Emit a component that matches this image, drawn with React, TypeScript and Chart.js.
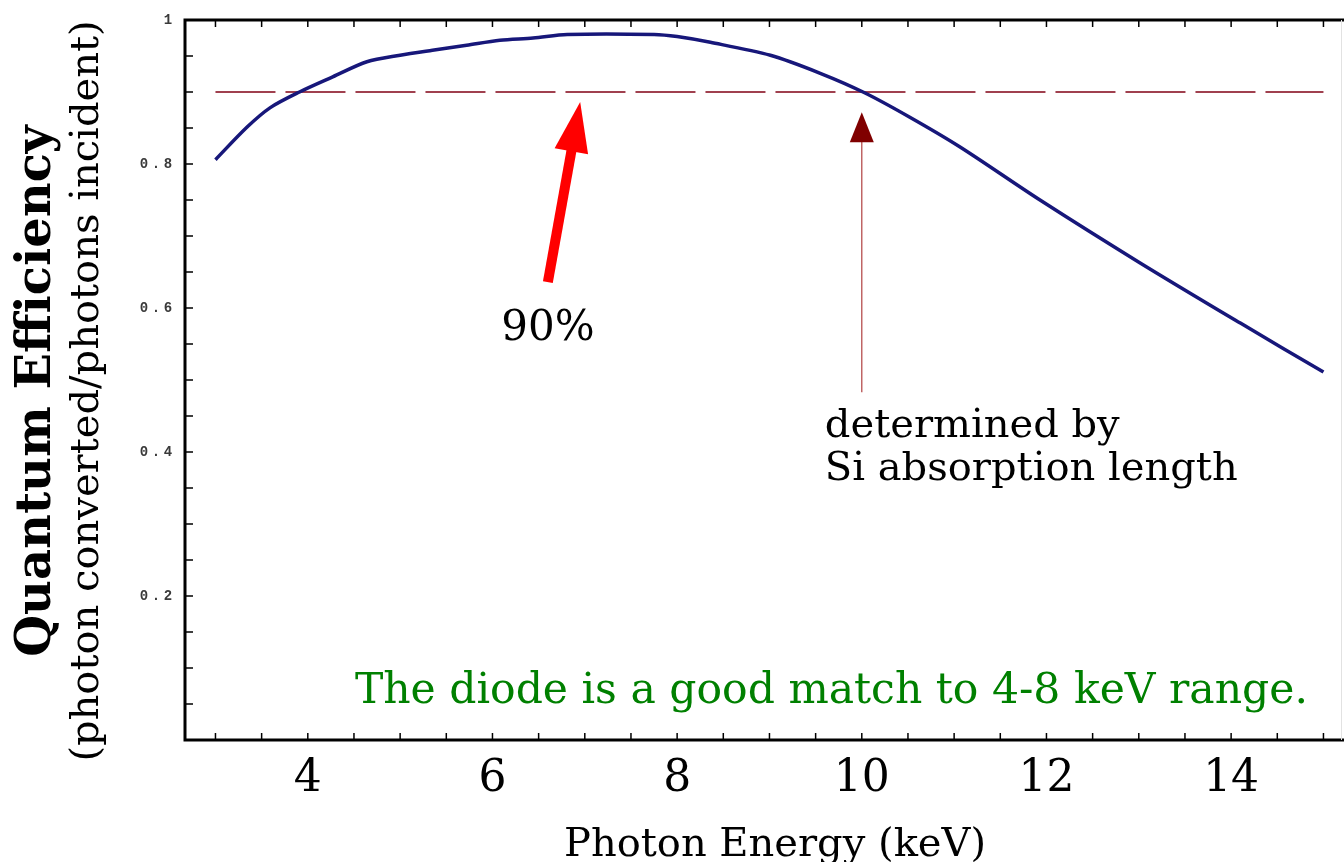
import React, { useEffect, useRef } from "react";
import { Chart, registerables } from "chart.js";

Chart.register(...registerables);

// Photon energy (keV) and quantum efficiency
const energyKeV = [3.0, 3.34, 3.59, 3.91, 4.27, 4.64, 5.0, 5.35, 5.72, 6.08, 6.44, 6.81, 7.75, 8.0, 8.36, 9.01, 9.55, 10.03, 10.52, 11.06, 11.93, 13.01, 14.1, 15.0];
const quantumEff = [0.806, 0.851, 0.878, 0.9, 0.921, 0.942, 0.951, 0.958, 0.965, 0.972, 0.975, 0.98, 0.98, 0.977, 0.969, 0.951, 0.926, 0.899, 0.865, 0.824, 0.75, 0.663, 0.579, 0.511];

// 90% reference level
const refX = [3.0, 15.0];
const refY = [0.9, 0.9];

// tick labels
const xTickValues = [4, 6, 8, 10, 12, 14];
const yTickValues = [0.2, 0.4, 0.6, 0.8, 1.0];
const yTickLabels = ["0.2", "0.4", "0.6", "0.8", "1"];

// axis extents
const X_MIN = 2.67;
const X_MAX = 15.19;
const Y_MIN = 0;
const Y_MAX = 1;

const SERIF = "'DejaVu Serif', serif";

const decorPlugin = {
  id: "decor",
  afterDraw(chart: any) {
    const { ctx, chartArea } = chart;
    const xs = chart.scales.x;
    const ys = chart.scales.y;
    const L = chartArea.left, R = chartArea.right, T = chartArea.top, B = chartArea.bottom;
    ctx.save();

    // frame
    ctx.strokeStyle = "#000";
    ctx.lineWidth = 3;
    ctx.beginPath();
    ctx.moveTo(L, T);
    ctx.lineTo(R + 3, T);
    ctx.moveTo(L, T - 1.5);
    ctx.lineTo(L, B + 1.5);
    ctx.moveTo(L, B);
    ctx.lineTo(R + 3, B);
    ctx.stroke();
    ctx.strokeStyle = "#e2e2e2";
    ctx.lineWidth = 1;
    ctx.beginPath();
    ctx.moveTo(R + 0.5, T);
    ctx.lineTo(R + 0.5, B);
    ctx.stroke();

    // minor/major ticks
    ctx.strokeStyle = "#000";
    ctx.lineWidth = 1.5;
    ctx.beginPath();
    for (let v = 3; v <= 15.01; v += 0.5) {
      const px = xs.getPixelForValue(v);
      ctx.moveTo(px, B);
      ctx.lineTo(px, B - 7);
      ctx.moveTo(px, T);
      ctx.lineTo(px, T + 7);
    }
    for (let v = 0.05; v <= 1.001; v += 0.05) {
      const py = ys.getPixelForValue(v);
      ctx.moveTo(L, py);
      ctx.lineTo(L + 8, py);
    }
    ctx.stroke();

    // y tick labels (letter-spaced monospace, as in the original plot)
    ctx.save();
    ctx.fillStyle = "#3a3a3a";
    ctx.font = "bold 14px 'Liberation Mono', monospace";
    ctx.textAlign = "center";
    ctx.textBaseline = "middle";
    const adv = 12;
    yTickValues.forEach((v, i) => {
      const s = yTickLabels[i];
      const py = ys.getPixelForValue(v);
      const rightCenter = L - 17;
      for (let k = 0; k < s.length; k++) {
        const cx = rightCenter - (s.length - 1 - k) * adv;
        ctx.fillText(s[k], cx, py);
      }
    });
    ctx.restore();

    const drawArrow = (x0: number, y0: number, x1: number, y1: number, shaftW: number, headL: number, headW: number, shaftColor: string, headColor: string) => {
      const dx = x1 - x0, dy = y1 - y0;
      const len = Math.hypot(dx, dy);
      const ux = dx / len, uy = dy / len;
      const bx = x1 - ux * headL, by = y1 - uy * headL;
      ctx.strokeStyle = shaftColor;
      ctx.lineWidth = shaftW;
      ctx.lineCap = "butt";
      ctx.beginPath();
      ctx.moveTo(x0, y0);
      ctx.lineTo(bx + ux * 2, by + uy * 2);
      ctx.stroke();
      ctx.fillStyle = headColor;
      ctx.beginPath();
      ctx.moveTo(x1, y1);
      ctx.lineTo(bx - uy * headW / 2, by + ux * headW / 2);
      ctx.lineTo(bx + uy * headW / 2, by - ux * headW / 2);
      ctx.closePath();
      ctx.fill();
    };
    // red arrow -> 90% level
    drawArrow(xs.getPixelForValue(6.6), ys.getPixelForValue(0.636), xs.getPixelForValue(6.95), ys.getPixelForValue(0.886), 10, 50, 34, "#ff0000", "#ff0000");
    // dark red arrow -> 10 keV crossing
    drawArrow(xs.getPixelForValue(10.0), ys.getPixelForValue(0.483), xs.getPixelForValue(10.0), ys.getPixelForValue(0.872), 1.2, 30, 24, "#b04040", "#800000");

    // annotation texts
    ctx.fillStyle = "#000";
    ctx.font = `42px ${SERIF}`;
    ctx.textAlign = "center";
    ctx.textBaseline = "alphabetic";
    ctx.fillText("90%", xs.getPixelForValue(6.6), ys.getPixelForValue(0.556));

    ctx.textAlign = "left";
    ctx.font = `40px ${SERIF}`;
    ctx.fillText("determined by", xs.getPixelForValue(9.6), ys.getPixelForValue(0.421));
    ctx.fillText("Si absorption length", xs.getPixelForValue(9.6), ys.getPixelForValue(0.361));

    ctx.fillStyle = "#008000";
    ctx.font = `42.5px ${SERIF}`;
    ctx.fillText("The diode is a good match to 4-8 keV range.", xs.getPixelForValue(4.51), ys.getPixelForValue(0.051));

    // x axis title
    ctx.fillStyle = "#000";
    ctx.textAlign = "center";
    ctx.font = `40px ${SERIF}`;
    ctx.fillText("Photon Energy (keV)", xs.getPixelForValue(9.06), B + 116);

    // y axis title (two lines)
    const cy = (T + B) / 2 + 11;
    ctx.save();
    ctx.translate(L - 147, cy);
    ctx.rotate(-Math.PI / 2);
    ctx.textAlign = "center";
    ctx.textBaseline = "middle";
    ctx.font = `bold 48px ${SERIF}`;
    ctx.fillText("Quantum Efficiency", 0, 0);
    ctx.restore();
    ctx.save();
    ctx.translate(L - 97, cy);
    ctx.rotate(-Math.PI / 2);
    ctx.textAlign = "center";
    ctx.textBaseline = "middle";
    ctx.font = `40px ${SERIF}`;
    ctx.fillText("(photon converted/photons incident)", 0, 0);
    ctx.restore();

    ctx.restore();
  },
};

export default function App() {
  const canvasRef = useRef<HTMLCanvasElement | null>(null);

  useEffect(() => {
    document.body.style.margin = "0";
    const canvas = canvasRef.current;
    if (!canvas) return;
    const chart = new Chart(canvas, {
      type: "line",
      data: {
        datasets: [
          {
            label: "Quantum Efficiency",
            data: energyKeV.map((x, i) => ({ x, y: quantumEff[i] })),
            borderColor: "#17177a",
            borderWidth: 3.5,
            pointRadius: 0,
            tension: 0.3,
            fill: false,
          },
          {
            label: "90%",
            data: refX.map((x, i) => ({ x, y: refY[i] })),
            borderColor: "#a0404f",
            borderWidth: 1.8,
            borderDash: [60, 10],
            pointRadius: 0,
            fill: false,
          },
        ],
      },
      options: {
        responsive: false,
        animation: false,
        layout: { padding: { top: 20, right: 3, left: 0, bottom: 0 } },
        plugins: {
          legend: { display: false },
          tooltip: { enabled: false },
          title: { display: false },
        },
        scales: {
          x: {
            type: "linear",
            position: "bottom",
            min: X_MIN,
            max: X_MAX,
            afterFit: (s: any) => {
              s.height = 122;
            },
            afterBuildTicks: (s: any) => {
              s.ticks = xTickValues.map((v) => ({ value: v }));
            },
            grid: { display: false, drawTicks: false },
            border: { display: false },
            ticks: {
              autoSkip: false,
              maxRotation: 0,
              padding: 13,
              color: "#000",
              font: { family: SERIF, size: 44 },
              callback: (v: any) => String(v),
            },
          },
          y: {
            type: "linear",
            min: Y_MIN,
            max: Y_MAX,
            afterFit: (s: any) => {
              s.width = 185;
            },
            afterBuildTicks: (s: any) => {
              s.ticks = yTickValues.map((v) => ({ value: v }));
            },
            grid: { display: false, drawTicks: false },
            border: { display: false },
            ticks: { display: false },
          },
        },
      },
      plugins: [decorPlugin],
    });
    return () => chart.destroy();
  }, []);

  return (
    <div style={{ position: "absolute", left: 0, top: 0, width: 1344, height: 862, background: "#fff" }}>
      <canvas ref={canvasRef} width={1344} height={862} />
    </div>
  );
}
